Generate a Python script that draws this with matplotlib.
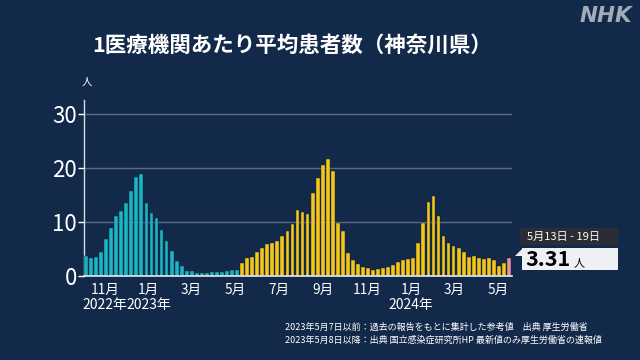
import matplotlib
matplotlib.use('Agg')
import matplotlib.pyplot as plt
import matplotlib.dates as mdates
import numpy as np
import pandas as pd
from matplotlib.patches import Rectangle, Polygon

plt.rcParams['font.family'] = ['Noto Sans CJK JP', 'DejaVu Sans']

# weekly values (per medical institution), week of 2022-10-03 .. 2024-05-13
week_start = '2022-10-03'
old_values = [3.75, 3.25, 3.6, 4.4, 6.9, 8.9, 11.1, 12.0, 13.6, 15.7,
              18.3, 18.9, 13.6, 11.75, 10.8, 8.6, 6.4, 4.6, 2.75, 1.9,
              1.0, 0.95, 0.6, 0.6, 0.6, 0.7, 0.8, 0.8, 1.0, 1.05, 1.05]
new_values = [2.4, 3.4, 3.5, 4.4, 5.1, 6.0, 6.1, 6.4, 7.5, 8.3,
              9.6, 12.25, 11.8, 11.4, 15.4, 18.2, 20.6, 21.75, 19.4, 9.9,
              8.4, 4.3, 3.0, 2.2, 1.7, 1.45, 1.2, 1.3, 1.4, 1.6,
              2.0, 2.55, 2.9, 3.2, 3.3, 6.2, 9.75, 13.75, 14.9, 11.2,
              7.5, 6.2, 5.5, 5.1, 4.5, 3.5, 3.75, 3.25, 3.2, 3.3,
              2.9, 1.8, 2.5]
latest_value = 3.31
latest_label = '5月13日 - 19日'

month_ticks = ['2022-11-01', '2023-01-01', '2023-03-01', '2023-05-01', '2023-07-01',
               '2023-09-01', '2023-11-01', '2024-01-01', '2024-03-01', '2024-05-01']
month_labels = ['11月', '1月', '3月', '5月', '7月', '9月', '11月', '1月', '3月', '5月']
year_ticks = ['2022-11-01', '2023-01-01', '2024-01-01']
year_labels = ['2022年', '2023年', '2024年']

BG = '#13294a'
TEAL = '#1bb6c4'
YELLOW = '#f4c61a'
PINK = '#e8939b'

values = old_values + new_values + [latest_value]
n = len(values)
centers = pd.date_range(week_start, periods=n, freq='7D') + pd.Timedelta(days=3)
x = mdates.date2num(centers)
colors = [TEAL] * len(old_values) + [YELLOW] * len(new_values) + [PINK]

fig = plt.figure(figsize=(6.4, 3.6), dpi=100, facecolor=BG)
ax = fig.add_axes([84 / 640, 1 - 276 / 360, (512 - 84) / 640, 176 / 360])
ax.set_facecolor(BG)

ax.bar(x, values, width=5.3, color=colors, edgecolor='#0e2038', linewidth=0.3, zorder=3)

ax.set_xlim(x[0] - 2.8, x[-1] + 4.2)
ax.set_ylim(0, 32.6)

ax.set_yticks([0, 10, 20, 30])
ax.set_yticklabels(['0', '10', '20', '30'])
ax.tick_params(axis='y', colors='white', labelsize=16, length=4, width=1, pad=1)
for yv in [10, 20, 30]:
    ax.axhline(yv, color='#5d6b80', linewidth=1, zorder=1)

ax.set_xticks(mdates.date2num(pd.to_datetime(month_ticks)))
ax.set_xticklabels(month_labels)
ax.tick_params(axis='x', colors='white', labelsize=9.8, length=0, pad=5)

for d, lab in zip(year_ticks, year_labels):
    ax.text(mdates.date2num(pd.Timestamp(d)), -5.4, lab, color='white', fontsize=10,
            ha='center', va='center')

for s in ['top', 'right']:
    ax.spines[s].set_visible(False)
ax.spines['left'].set_color('#d8dde5')
ax.spines['bottom'].set_color('#e8ecf0')
ax.spines['left'].set_linewidth(1)
ax.spines['bottom'].set_linewidth(1.2)
ax.spines['bottom'].set_zorder(4)

# unit label
fig.text(87 / 640, 1 - 82 / 360, '人', color='white', fontsize=7.5, ha='center', va='center')

# title
fig.text(292 / 640, 1 - 45 / 360, '1医療機関あたり平均患者数（神奈川県）', color='white',
         fontsize=15.5, fontweight='bold', ha='center', va='center')

# NHK logo
fig.text(632 / 640, 1 - 16 / 360, 'NHK', color='#a3abb8', fontsize=15.5, fontweight='heavy',
         fontstyle='italic', family=['DejaVu Sans'], ha='right', va='center')

# latest value callout
fig.patches.append(Rectangle((520 / 640, 1 - 245 / 360), 98 / 640, 17 / 360,
                             transform=fig.transFigure, facecolor='#2a2d33', edgecolor='none'))
fig.patches.append(Rectangle((522 / 640, 1 - 270 / 360), 96 / 640, 22 / 360,
                             transform=fig.transFigure, facecolor='#eef0f4', edgecolor='none'))
fig.patches.append(Polygon([(515 / 640, 1 - 256 / 360), (522 / 640, 1 - 249 / 360),
                            (522 / 640, 1 - 256 / 360)], closed=True,
                           transform=fig.transFigure, facecolor='#eef0f4', edgecolor='none'))
fig.text(527 / 640, 1 - 237 / 360, latest_label, color='white', fontsize=8,
         ha='left', va='center')
fig.text(525 / 640, 1 - 260 / 360, f'{latest_value:.2f}', color='black', fontsize=15.5,
         fontweight='bold', ha='left', va='center')
fig.text(574 / 640, 1 - 263 / 360, '人', color='black', fontsize=8, ha='left', va='center')

# notes
fig.text(285 / 640, 1 - 327 / 360, '2023年5月7日以前：過去の報告をもとに集計した参考値　出典 厚生労働省',
         color='white', fontsize=6.5, ha='left', va='center')
fig.text(285 / 640, 1 - 340 / 360, '2023年5月8日以降：出典 国立感染症研究所HP 最新値のみ厚生労働省の速報値',
         color='white', fontsize=6.5, ha='left', va='center')

fig.savefig('out.png', dpi=100, facecolor=BG)
